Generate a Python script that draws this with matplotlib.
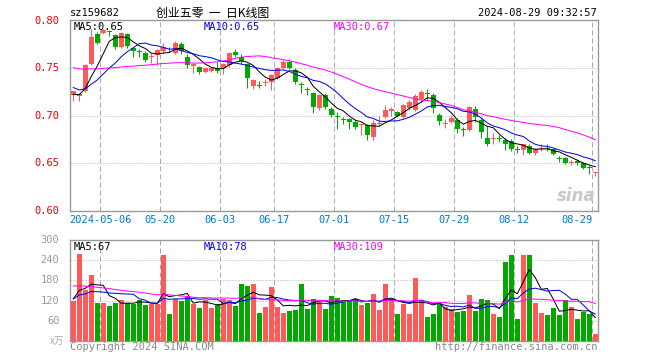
import numpy as np
import pandas as pd
import matplotlib
matplotlib.use("Agg")
import matplotlib.pyplot as plt

# price history before the first visible day (only used for the moving averages)
prev_close = [0.760, 0.765, 0.772, 0.778, 0.775, 0.770, 0.766, 0.764, 0.762,
              0.755, 0.750, 0.746, 0.748, 0.749,
              0.755, 0.760, 0.764, 0.763, 0.762, 0.760,
              0.748, 0.742, 0.735, 0.732, 0.728,
              0.725, 0.721, 0.720, 0.722]
prev_vol = [210, 195, 230, 180, 170, 165, 200, 175, 190, 160, 185, 170, 205, 180, 160,
            180, 165, 175, 170, 175,
            140, 120, 125, 115, 125,
            130, 120, 135, 121]

# daily candles, 2024-04-24 .. 2024-08-29
opens = [0.722, 0.721, 0.726, 0.755, 0.786, 0.787, 0.789, 0.785, 0.773, 0.786,
         0.772, 0.768, 0.766, 0.762, 0.764, 0.768, 0.771, 0.766, 0.776, 0.762,
         0.753, 0.752, 0.746, 0.747, 0.750, 0.750, 0.754, 0.767, 0.762, 0.755,
         0.732, 0.733, 0.735, 0.736, 0.740, 0.750, 0.757, 0.748, 0.734, 0.728,
         0.724, 0.708, 0.722, 0.707, 0.700, 0.697, 0.697, 0.694, 0.690, 0.690,
         0.678, 0.692, 0.699, 0.705, 0.704, 0.699, 0.708, 0.706, 0.718, 0.724,
         0.722, 0.701, 0.692, 0.694, 0.696, 0.686, 0.685, 0.707, 0.696, 0.677,
         0.676, 0.677, 0.675, 0.674, 0.665, 0.664, 0.668, 0.661, 0.665, 0.666,
         0.665, 0.656, 0.656, 0.651, 0.653, 0.650, 0.646, 0.640]
highs = [0.726, 0.724, 0.755, 0.792, 0.788, 0.792, 0.790, 0.786, 0.788, 0.787,
         0.773, 0.771, 0.768, 0.766, 0.770, 0.777, 0.773, 0.779, 0.778, 0.765,
         0.756, 0.753, 0.751, 0.752, 0.757, 0.756, 0.767, 0.770, 0.765, 0.756,
         0.739, 0.737, 0.739, 0.744, 0.752, 0.759, 0.759, 0.750, 0.736, 0.730,
         0.725, 0.723, 0.724, 0.709, 0.704, 0.699, 0.698, 0.696, 0.692, 0.692,
         0.696, 0.700, 0.712, 0.709, 0.705, 0.713, 0.717, 0.723, 0.727, 0.728,
         0.724, 0.703, 0.697, 0.701, 0.698, 0.688, 0.710, 0.710, 0.698, 0.689,
         0.682, 0.680, 0.677, 0.676, 0.668, 0.671, 0.670, 0.666, 0.670, 0.671,
         0.666, 0.658, 0.657, 0.654, 0.655, 0.652, 0.648, 0.641]
lows = [0.716, 0.716, 0.725, 0.754, 0.776, 0.786, 0.784, 0.771, 0.772, 0.772,
        0.762, 0.762, 0.757, 0.756, 0.754, 0.766, 0.767, 0.765, 0.765, 0.751,
        0.745, 0.744, 0.745, 0.746, 0.745, 0.744, 0.752, 0.762, 0.755, 0.729,
        0.728, 0.729, 0.732, 0.727, 0.739, 0.749, 0.749, 0.734, 0.724, 0.722,
        0.703, 0.706, 0.707, 0.699, 0.686, 0.692, 0.686, 0.686, 0.680, 0.675,
        0.675, 0.690, 0.698, 0.700, 0.699, 0.698, 0.706, 0.705, 0.716, 0.717,
        0.703, 0.691, 0.687, 0.693, 0.682, 0.679, 0.684, 0.694, 0.677, 0.668,
        0.671, 0.673, 0.664, 0.663, 0.661, 0.659, 0.660, 0.659, 0.663, 0.663,
        0.659, 0.652, 0.649, 0.648, 0.648, 0.644, 0.639, 0.637]
closes = [0.726, 0.723, 0.754, 0.783, 0.777, 0.791, 0.788, 0.773, 0.787, 0.774,
          0.768, 0.767, 0.759, 0.763, 0.769, 0.773, 0.770, 0.777, 0.768, 0.754,
          0.755, 0.746, 0.750, 0.751, 0.747, 0.755, 0.766, 0.764, 0.758, 0.740,
          0.738, 0.732, 0.736, 0.743, 0.750, 0.757, 0.751, 0.736, 0.733, 0.727,
          0.709, 0.722, 0.709, 0.701, 0.699, 0.696, 0.694, 0.688, 0.692, 0.680,
          0.693, 0.693, 0.706, 0.707, 0.700, 0.712, 0.715, 0.721, 0.725, 0.723,
          0.708, 0.695, 0.693, 0.698, 0.686, 0.685, 0.709, 0.699, 0.683, 0.670,
          0.677, 0.676, 0.671, 0.665, 0.664, 0.670, 0.661, 0.665, 0.666, 0.665,
          0.660, 0.655, 0.650, 0.652, 0.650, 0.645, 0.645, 0.641]
volumes = [119, 257, 151, 195, 112, 112, 103, 112, 121, 114,
           111, 123, 107, 109, 109, 254, 79, 124, 119, 131,
           109, 98, 122, 97, 109, 125, 121, 103, 169, 162,
           169, 82, 100, 159, 100, 82, 89, 92, 169, 94,
           124, 115, 94, 134, 129, 121, 121, 124, 106, 114,
           139, 92, 168, 124, 79, 109, 79, 186, 121, 70,
           79, 109, 100, 94, 86, 88, 136, 88, 124, 121,
           79, 70, 234, 255, 64, 255, 255, 112, 82, 76,
           97, 76, 121, 100, 64, 85, 79, 20]

tick_idx = [5, 15, 25, 34, 44, 54, 64, 74, 87]
tick_labels = ["2024-05-06", "05-20", "06-03", "06-17", "07-01",
               "07-15", "07-29", "08-12", "08-29"]

RED = "#ff5a5a"
GREEN = "#00a800"
GRID = "#aaaaaa"
FRAME = "#999999"
MONO = "DejaVu Sans Mono"
CJK = ["Noto Sans CJK SC", "DejaVu Sans"]

n = len(closes)
x = np.arange(n)
o = np.array(opens); c = np.array(closes)
hi = np.array(highs); lo = np.array(lows)
cols = [RED if c[i] >= o[i] else GREEN for i in range(n)]

def ma(prev, vals, k):
    s = pd.Series(list(prev) + list(vals)).rolling(k).mean()
    return s.iloc[len(prev):].to_numpy()

W, H = 660, 360
fig = plt.figure(figsize=(6.6, 3.6), dpi=100)

def fx(px):
    return px / W

def fy(py):
    return 1 - py / H

L, R = 70, 597.7
ax = fig.add_axes([fx(L), fy(211), fx(R - L), fy(20) - fy(211)])
axv = fig.add_axes([fx(L), fy(341), fx(R - L), fy(240) - fy(341)])

xl = (-0.55, 87.4)
lw1 = 0.72

# price panel
ax.vlines(x, lo, hi, colors=cols, linewidth=lw1, zorder=3)
body = np.maximum(np.abs(c - o), 0.0009)
ax.bar(x, body, bottom=np.minimum(o, c), width=0.8, color=cols, linewidth=0, zorder=3)
ax.plot(x, ma(prev_close, closes, 5), color="black", lw=lw1, zorder=4)
ax.plot(x, ma(prev_close, closes, 10), color="#0000ee", lw=lw1, zorder=4)
ax.plot(x, ma(prev_close, closes, 30), color="#ff00ff", lw=lw1, zorder=4)
ax.set_xlim(*xl)
ax.set_ylim(0.60, 0.801)
for yv in [0.65, 0.70, 0.75]:
    ax.axhline(yv, color=GRID, lw=lw1, ls=(0, (1, 2)), zorder=1)

# volume panel
axv.bar(x, volumes, width=0.8, color=cols, linewidth=0, zorder=3)
axv.plot(x, ma(prev_vol, volumes, 5), color="black", lw=lw1, zorder=4)
axv.plot(x, ma(prev_vol, volumes, 10), color="#0000ee", lw=lw1, zorder=4)
axv.plot(x, ma(prev_vol, volumes, 30), color="#ff00ff", lw=lw1, zorder=4)
axv.set_xlim(*xl)
axv.set_ylim(0, 300)
for yv in [60, 120, 180, 240]:
    axv.axhline(yv, color=GRID, lw=lw1, ls=(0, (1, 2)), zorder=1)

for a in (ax, axv):
    for t in tick_idx:
        a.axvline(t - 0.5, color=GRID, lw=lw1, ls=(0, (5, 3)), zorder=1)
    a.set_xticks([]); a.set_yticks([])
    for s in a.spines.values():
        s.set_color(FRAME)
        s.set_linewidth(1)
    a.set_facecolor("white")

# price tick labels
for yv, lab in zip([0.80, 0.75, 0.70, 0.65, 0.60], ["0.80", "0.75", "0.70", "0.65", "0.60"]):
    ax.text(-0.02, yv, lab, transform=ax.get_yaxis_transform(), ha="right", va="center",
            color="#ee0000", fontsize=7.5, family=MONO)
for yv, lab in zip([300, 240, 180, 120, 60], ["300", "240", "180", "120", "60"]):
    axv.text(-0.02, yv, lab, transform=axv.get_yaxis_transform(), ha="right", va="center",
             color="#999999", fontsize=7.5, family=MONO)
fig.text(fx(64), fy(341), "x万", ha="right", va="center", color="#aaaaaa", fontsize=7,
         family=CJK)

# date labels
for t, lab in zip(tick_idx, tick_labels):
    ha = "right" if t == tick_idx[-1] else "center"
    ax.text(t - 0.5, -0.02, lab, transform=ax.get_xaxis_transform(), ha=ha, va="top",
            color="#0078c8", fontsize=7.5, family=MONO)

# header
fig.text(fx(70), fy(13), "sz159682", ha="left", va="center", fontsize=7.5, family=MONO)
fig.text(fx(213), fy(13), "创业五零  一  日K线图", ha="center", va="center", fontsize=8.6,
         family=CJK)
fig.text(fx(597), fy(13), "2024-08-29 09:32:57", ha="right", va="center", fontsize=7.5,
         family=MONO)

# MA legends
fig.text(fx(74), fy(27), "MA5:0.65", color="black", fontsize=7.5, family=MONO, va="center")
fig.text(fx(204), fy(27), "MA10:0.65", color="#0000ee", fontsize=7.5, family=MONO, va="center")
fig.text(fx(334), fy(27), "MA30:0.67", color="#ff00ff", fontsize=7.5, family=MONO, va="center")
fig.text(fx(74), fy(247), "MA5:67", color="black", fontsize=7.5, family=MONO, va="center")
fig.text(fx(204), fy(247), "MA10:78", color="#0000ee", fontsize=7.5, family=MONO, va="center")
fig.text(fx(334), fy(247), "MA30:109", color="#ff00ff", fontsize=7.5, family=MONO, va="center")

# footer
fig.text(fx(70), fy(347), "Copyright 2024 SINA.COM", ha="left", va="center", color="#888888",
         fontsize=7.5, family=MONO)
fig.text(fx(597), fy(347), "http://finance.sina.com.cn", ha="right", va="center",
         color="#888888", fontsize=7.5, family=MONO)

# watermark
fig.text(fx(596), fy(196), "sina", ha="right", va="center", color="#c8c8c8", fontsize=12,
         style="italic", weight="bold", zorder=0)

fig.savefig("out.png", dpi=100, facecolor="white")
